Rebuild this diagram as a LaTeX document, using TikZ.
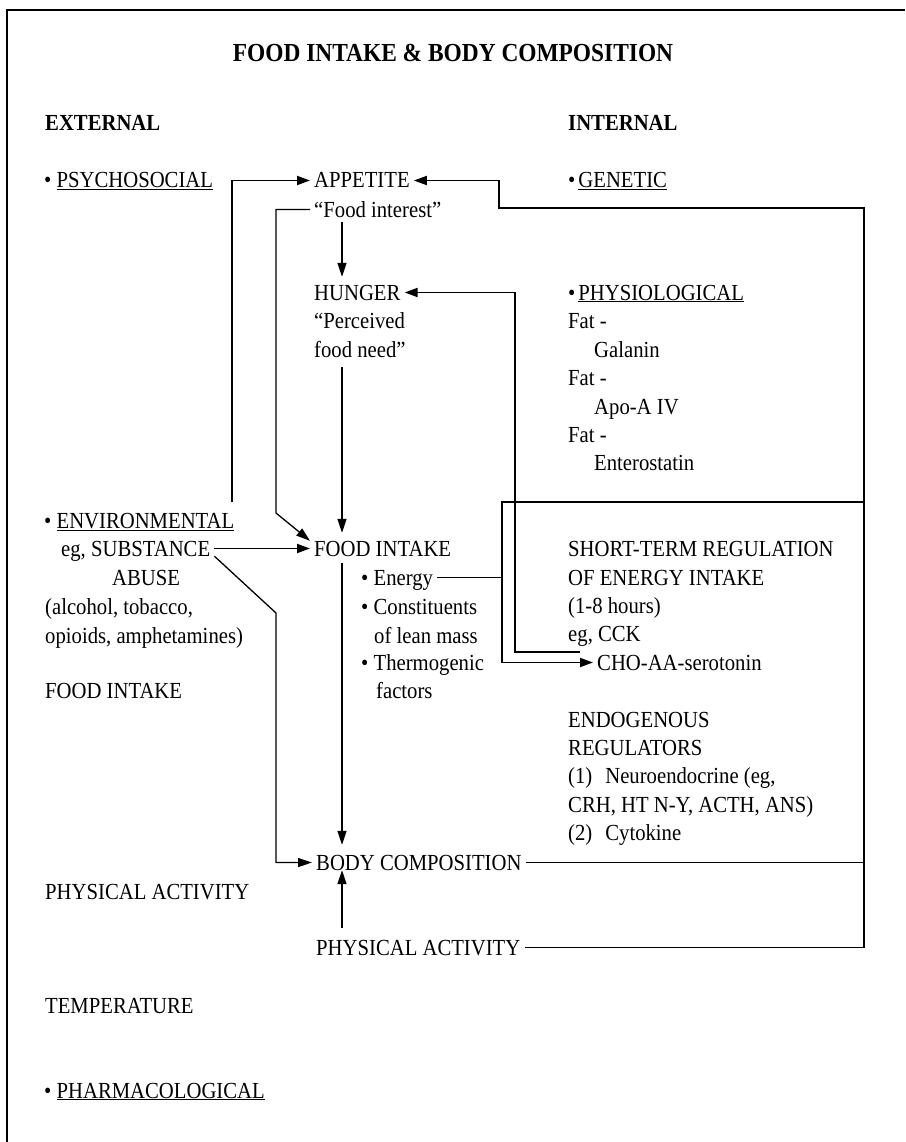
\documentclass[tikz,border=0pt]{standalone}
\usepackage{fontspec}
\setmainfont{Liberation Serif}[FakeStretch=0.9]
\usetikzlibrary{arrows.meta,positioning}
\newcommand\dotitem{\textbullet\ }
\newcommand\dottight{\textbullet\hspace{3pt}}

\begin{document}
\begin{tikzpicture}[x=1pt,y=-1pt,
    txt/.style={inner xsep=4pt, inner ysep=0pt, text height=15pt, text depth=0pt,
                anchor=base west, xshift=-4pt, font=\fontsize{23}{26}\selectfont},
    hdr/.style={txt, font=\fontsize{23}{26}\selectfont\bfseries},
    link/.style={line width=1.9pt},
    thinlink/.style={line width=1.3pt},
    arr/.style={link, -{Triangle[length=13pt,width=9pt]}},
    tarr/.style={thinlink, -{Triangle[length=14pt,width=9pt]}}]

  \fill[white] (0,0) rectangle (905,1142);
  \useasboundingbox (0,0) rectangle (905,1142);
  % frame
  \draw[link] (905,10) -- (7,10) -- (7,1142);

  \node[anchor=base, font=\fontsize{26}{29}\selectfont\bfseries] (title) at (453,62)
    {FOOD INTAKE \& BODY COMPOSITION};
  \node[hdr] (ext) at (45,131) {EXTERNAL};
  \node[hdr] (int) at (568,131) {INTERNAL};

  % left column
  \node[txt] (psy) at (44,188) {\dotitem\underline{PSYCHOSOCIAL}};
  \node[txt] (env) at (44,528) {\dotitem\underline{ENVIRONMENTAL}};
  \node[txt] (subs) at (61,556) {eg, SUBSTANCE};
  \node[txt] (abuse) at (112,585) {ABUSE};
  \node[txt] (alc) at (45,614) {(alcohol, tobacco,};
  \node[txt] (opi) at (45,643) {opioids, amphetamines)};
  \node[txt] (fil) at (45,698) {FOOD INTAKE};
  \node[txt] (pal) at (45,899) {PHYSICAL ACTIVITY};
  \node[txt] (temp) at (45,1013) {TEMPERATURE};
  \node[txt] (pharm) at (44,1098) {\dotitem\underline{PHARMACOLOGICAL}};

  % middle column
  \node[txt] (app) at (314,188) {APPETITE};
  \node[txt] (fint) at (314,217) {“Food interest”};
  \node[txt] (hun) at (314,300) {HUNGER};
  \node[txt] (perc) at (314,328) {“Perceived};
  \node[txt] (fneed) at (314,357) {food need”};
  \node[txt] (fi) at (314,556) {FOOD INTAKE};
  \node[txt] (en) at (361,585) {\dotitem Energy};
  \node[txt] (con) at (361,614) {\dotitem Constituents};
  \node[txt] (lean) at (374,643) {of lean mass};
  \node[txt] (therm) at (361,670) {\dotitem Thermogenic};
  \node[txt] (fac) at (376,698) {factors};
  \node[txt] (bc) at (316,870) {BODY COMPOSITION};
  \node[txt] (pa2) at (316,955) {PHYSICAL ACTIVITY};

  % right column
  \node[txt] (gen) at (568,188) {\dottight\underline{GENETIC}};
  \node[txt] (phys) at (568,300) {\dottight\underline{PHYSIOLOGICAL}};
  \node[txt] (fat1) at (568,328) {Fat -};
  \node[txt] (gal) at (594,357) {Galanin};
  \node[txt] (fat2) at (568,385) {Fat -};
  \node[txt] (apo) at (594,414) {Apo-A IV};
  \node[txt] (fat3) at (568,442) {Fat -};
  \node[txt] (ent) at (594,470) {Enterostatin};
  \node[txt] (st1) at (568,556) {SHORT-TERM REGULATION};
  \node[txt] (st2) at (568,585) {OF ENERGY INTAKE};
  \node[txt] (st3) at (568,613) {(1-8 hours)};
  \node[txt] (cck) at (568,641) {eg, CCK};
  \node[txt] (cho) at (597,670) {CHO-AA-serotonin};
  \node[txt] (endo) at (568,727) {ENDOGENOUS};
  \node[txt] (reg) at (568,755) {REGULATORS};
  \node[txt] (neu) at (568,783) {(1)\hspace{13pt}Neuroendocrine (eg,};
  \node[txt] (crh) at (568,812) {CRH, HT N-Y, ACTH, ANS)};
  \node[txt] (cyt) at (568,840) {(2)\hspace{13pt}Cytokine};

  % bends
  \coordinate (envtop) at (232,502);
  \coordinate (rtop) at (864,208);
  \coordinate (gbend) at (499,208);
  \coordinate (fbend) at (276,513);
  \coordinate (col) at (342,0);
  \coordinate (cckend) at (580,652);
  \coordinate (hx) at (515,0);
  \coordinate (div) at (502,502);
  \coordinate (dbend) at (276,613);

  \draw[arr] (envtop) |- (app.west);
  \draw[arr] (pa2.east) -| (rtop) -- (gbend) |- (app.east);
  \draw[link] (bc.east) -- (bc.east -| rtop);
  \draw[tarr] (fint.west) -| (fbend) -- (fi.north west);
  \draw[tarr, shorten <=5pt, shorten >=8pt] (fint.south -| col) -- (hun.north -| col);
  \draw[tarr, shorten <=10pt, shorten >=8pt] (fneed.south -| col) -- (fi.north -| col);
  \draw[tarr, shorten <=7pt, shorten >=10pt] (fi.south -| col) -- (bc.north -| col);
  \draw[tarr, shorten <=12pt] (pa2.north -| col) -- (bc.south -| col);
  \draw[arr] (cckend) -| (hx |- hun.east) -- (hun.east);
  \draw[arr] (rtop |- div) -- (div) |- (cho.west);
  \draw[link] (en.east) -- (en.east -| div);
  \draw[arr] (subs.east) -- (fi.west);
  \draw[tarr] (subs.south east) -- (dbend) |- (bc.west);
\end{tikzpicture}
\end{document}
